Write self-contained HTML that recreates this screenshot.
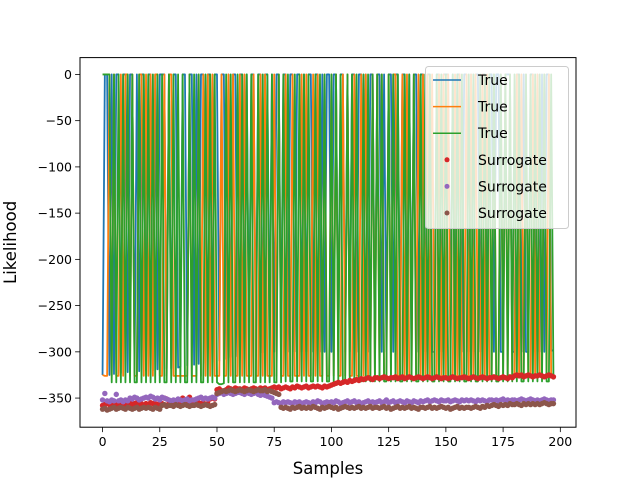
<!DOCTYPE html>
<html><head><meta charset="utf-8"><style>
body{margin:0;background:#fff}
svg{display:block;font-family:"DejaVu Sans","Liberation Sans",sans-serif}
</style></head><body>
<svg id="chart" width="640" height="480">
<rect x="0" y="0" width="640" height="480" fill="#fff"/>
<defs><clipPath id="clip"><rect x="80" y="57.6" width="496" height="369.6"/></clipPath></defs>
<g id="plot" clip-path="url(#clip)"></g>
<g id="axes"></g>
<g id="legend"></g>
</svg>
<script>
const xTicks=[0,25,50,75,100,125,150,175,200];
const yTicks=[0,-50,-100,-150,-200,-250,-300,-350];
const trueBlue=[
-325,0,0,-325,0,-324,0,0,-323,0,
0,-322,0,0,-322,0,-321,0,0,-320,
0,0,-320,0,-319,0,0,0,-318,0,
-318,0,0,-317,-316,0,0,-315,0,0,
-314,0,-313,0,0,-312,0,0,-311,0,
0,-310,0,0,-308,0,-306,0,0,-305,
0,0,-304,0,-303,0,0,-302,0,0,
-301,0,0,-300,0,-300,0,0,-300,0,
0,-300,0,0,-300,0,0,-300,0,-300,
0,0,-300,0,0,-300,0,-300,0,0,
-300,0,0,-300,0,0,-300,0,-300,0,
0,-300,0,0,-300,0,-300,0,0,-300,
0,0,-300,0,-300,0,0,-300,0,0,
-300,0,0,-300,0,-300,0,0,-300,0,
0,-300,0,0,-300,-300,0,0,-300,0,
0,0,-300,0,-300,0,0,-300,0,0,
-300,0,-300,0,0,-300,0,0,-300,0,
0,-300,0,0,-300,-300,0,0,0,-300,
-300,0,0,-300,0,-300,-300,0,0,-300,
0,-300,0,-300,0,0,-299,-298];
const trueOrange=[
-325,-326,-326,0,-326,0,-326,-326,0,-326,
0,0,-326,0,-326,-326,0,0,-326,0,
-326,0,-326,0,0,-326,-326,0,-326,0,
0,-326,-326,-326,-326,-326,-326,-326,0,-326,
-326,-326,0,-326,0,-326,0,-326,0,-326,
-326,-326,0,-326,-326,0,-326,0,-326,-326,
0,-326,0,-326,-326,-326,0,-326,-326,0,
-326,0,-326,-326,-326,0,-326,0,-326,-326,
0,-326,-326,0,-326,-326,-326,0,-326,0,
-326,-326,0,-326,0,-326,-326,0,-326,-326,
0,-326,0,-326,-326,0,-326,0,-326,-326,
0,-326,-326,0,-326,0,-326,-326,0,-326,
0,-326,0,-326,-326,0,-326,0,0,-326,
-326,0,-326,0,-326,-326,0,-326,0,-326,
0,-326,0,-326,0,-326,-326,0,-326,0,
-326,0,-326,-326,0,-326,0,-326,-326,0,
-326,0,-326,0,-326,-326,0,-326,0,-326,
-326,0,-326,-326,0,-326,0,-326,0,-326,
-326,0,-326,0,-326,0,-326,-326,0,-326,
0,-326,-326,0,-326,0,-326,-325];
const trueGreen=[
0,0,0,0,-333,0,-333,0,-333,0,
-333,0,-333,0,-333,-333,0,-333,0,-333,
0,-333,0,-333,0,-333,0,-333,-333,0,
-333,0,-333,0,-333,0,-333,-333,0,-333,
0,-333,0,-333,-333,0,-333,0,-333,0,
-333,-335,-335,-334,0,-333,0,-333,-333,0,
-333,0,-333,0,-333,0,-333,-333,0,-333,
0,-333,0,-333,0,-333,-333,0,-333,0,
-332,0,-332,-332,0,-332,0,-332,0,-332,
0,-332,-332,0,-332,0,-332,0,-332,-332,
0,-332,0,-332,0,-332,-332,0,-332,0,
-332,0,-332,-332,0,-332,0,-332,0,-332,
0,-332,0,-332,-332,0,-332,0,-332,0,
-332,-332,0,-332,0,-332,0,-332,-332,0,
-332,0,-332,0,-332,-332,0,-332,0,-332,
0,-332,-332,0,-332,0,-332,0,-332,-332,
0,-332,0,-332,-332,0,-332,0,-332,0,
-332,0,-332,-332,0,-332,0,-332,0,-332,
0,-332,0,-332,-332,0,-332,0,-332,0,
-332,0,-332,0,-332,-332,0,-330];
const surRed=[
-358,-357,-356,-357,-355,-357,-356,-358,-355,-356,
-357,-356,-355,-357,-356,-355,-357,-356,-358,-356,
-357,-355,-356,-356,-357,-355,-356,-350,-351,-356,
-357,-356,-355,-356,-357,-350,-356,-357,-349,-355,
-356,-357,-355,-356,-355,-357,-356,-351,-350,-351,
-341,-340,-342,-343,-341,-339,-340,-341,-339,-340,
-340,-341,-339,-340,-341,-340,-339,-340,-341,-339,
-340,-339,-341,-340,-339,-338,-339,-338,-340,-339,
-338,-339,-340,-338,-339,-337,-338,-339,-338,-337,
-339,-338,-337,-338,-337,-338,-339,-337,-338,-337,
-336,-335,-334,-333,-334,-333,-332,-333,-331,-332,
-331,-330,-331,-329,-330,-329,-328,-329,-330,-328,
-328,-329,-328,-327,-328,-329,-328,-328,-327,-329,
-328,-327,-329,-328,-327,-328,-329,-328,-327,-328,
-329,-328,-327,-328,-329,-328,-327,-328,-329,-328,
-328,-329,-328,-327,-328,-329,-328,-328,-327,-328,
-329,-328,-327,-328,-329,-328,-327,-328,-329,-328,
-328,-327,-328,-329,-328,-327,-328,-329,-327,-328,
-326,-325,-326,-325,-327,-326,-325,-326,-327,-326,
-326,-325,-326,-327,-326,-325,-326,-327];
const surPurple=[
-352,-345,-353,-354,-352,-353,-346,-353,-352,-354,
-352,-353,-350,-351,-349,-350,-352,-351,-350,-349,
-350,-348,-349,-351,-350,-352,-349,-350,-351,-352,
-353,-352,-354,-351,-352,-353,-352,-351,-353,-352,
-352,-351,-350,-349,-351,-350,-351,-350,-349,-350,
-346,-345,-344,-346,-345,-344,-345,-346,-345,-344,
-344,-345,-346,-344,-345,-346,-345,-344,-346,-347,
-346,-347,-348,-349,-350,-355,-354,-355,-356,-354,
-355,-354,-355,-356,-354,-355,-354,-356,-355,-354,
-355,-356,-354,-355,-353,-354,-356,-355,-354,-355,
-354,-355,-353,-354,-356,-355,-354,-353,-355,-354,
-353,-355,-354,-356,-355,-354,-353,-355,-354,-355,
-354,-353,-355,-354,-352,-355,-354,-353,-355,-354,
-353,-354,-355,-353,-354,-355,-353,-354,-355,-353,
-354,-353,-352,-354,-353,-352,-353,-354,-352,-353,
-353,-352,-354,-353,-352,-353,-354,-352,-353,-352,
-353,-352,-353,-354,-352,-353,-352,-353,-354,-352,
-352,-353,-352,-353,-352,-351,-353,-352,-353,-352,
-352,-353,-352,-351,-352,-353,-352,-351,-352,-353,
-352,-353,-352,-351,-352,-353,-352,-352];
const surBrown=[
-362,-361,-363,-362,-361,-360,-362,-361,-360,-361,
-362,-360,-361,-362,-361,-360,-362,-361,-360,-361,
-360,-361,-362,-360,-361,-362,-358,-357,-359,-358,
-358,-359,-357,-358,-359,-358,-357,-358,-359,-358,
-358,-357,-358,-359,-358,-357,-358,-359,-358,-357,
-345,-344,-343,-342,-343,-342,-341,-342,-343,-342,
-341,-342,-343,-342,-341,-342,-343,-342,-341,-342,
-342,-341,-343,-342,-343,-344,-345,-346,-360,-361,
-360,-361,-362,-360,-361,-360,-359,-361,-360,-361,
-360,-361,-359,-360,-361,-362,-360,-361,-360,-359,
-360,-361,-360,-362,-361,-360,-359,-360,-361,-360,
-361,-360,-359,-361,-360,-361,-360,-359,-361,-360,
-360,-361,-360,-359,-361,-360,-362,-361,-360,-359,
-361,-360,-361,-360,-359,-361,-360,-361,-362,-360,
-360,-361,-360,-359,-361,-360,-361,-360,-359,-360,
-361,-360,-362,-361,-360,-359,-361,-360,-361,-360,
-360,-361,-360,-359,-360,-361,-359,-360,-358,-359,
-358,-357,-358,-359,-357,-358,-357,-358,-356,-357,
-357,-356,-357,-358,-356,-357,-356,-357,-356,-357,
-356,-357,-356,-355,-356,-357,-356,-356];

const NS='http://www.w3.org/2000/svg';
const L=80,R=576,T=57.6,B=427.2;
const xMin=-9.85,xMax=206.85,yMin=-381.5,yMax=18.2;
function xs(v){return L+(v-xMin)/(xMax-xMin)*(R-L);}
function ys(v){return B-(v-yMin)/(yMax-yMin)*(B-T);}
function mk(tag,attrs,parent){const e=document.createElementNS(NS,tag);for(const k in attrs)e.setAttribute(k,attrs[k]);parent.appendChild(e);return e;}
const plot=document.getElementById('plot'),axes=document.getElementById('axes'),leg=document.getElementById('legend');

const lines=[[trueBlue,'#1f77b4','true-line-1'],[trueOrange,'#ff7f0e','true-line-2'],[trueGreen,'#2ca02c','true-line-3']];
lines.forEach(([arr,c,n])=>{
  const d=arr.map((v,i)=>(i?'L':'M')+xs(i).toFixed(2)+','+ys(v).toFixed(2)).join('');
  const p=mk('path',{d:d,fill:'none',stroke:c,'stroke-width':1.8,'stroke-linejoin':'round'},plot);
  
  
});
const scat=[[surRed,'#d62728','surrogate-points-1'],[surPurple,'#9467bd','surrogate-points-2'],[surBrown,'#8c564b','surrogate-points-3']];
scat.forEach(([arr,c,n])=>{
  const g=mk('g',{fill:c},plot);
  
  
  arr.forEach((v,i)=>{
    const pt=mk('circle',{cx:xs(i).toFixed(2),cy:ys(v).toFixed(2),r:2.7},g);
    
    
  });
});

const frame=mk('rect',{x:L,y:T,width:R-L,height:B-T,fill:'none',stroke:'#000','stroke-width':1},axes);


xTicks.forEach(t=>{
  const x=xs(t);
  const tk=mk('line',{x1:x,x2:x,y1:B,y2:B+4.9,stroke:'#000','stroke-width':0.8},axes);
  
  
  const tx=mk('text',{x:x,y:B+19,'text-anchor':'middle','font-size':'12.5px',fill:'#000'},axes);
  tx.textContent=String(t);
  
  
});
yTicks.forEach(t=>{
  const y=ys(t);
  const tk=mk('line',{x1:L-4.9,x2:L,y1:y,y2:y,stroke:'#000','stroke-width':0.8},axes);
  
  
  const tx=mk('text',{x:L-8,y:y+4.5,'text-anchor':'end','font-size':'12.5px',fill:'#000'},axes);
  tx.textContent=(t<0?'\u2212':'')+Math.abs(t);
  
  
});
const xl=mk('text',{x:(L+R)/2,y:474,'text-anchor':'middle','font-size':'16.5px',fill:'#000'},axes);
xl.textContent='Samples';


const yl=mk('text',{x:0,y:0,'text-anchor':'middle','font-size':'16.5px',fill:'#000',transform:'translate(16,'+((T+B)/2)+') rotate(-90)'},axes);
yl.textContent='Likelihood';



const lb=mk('rect',{x:425.5,y:66.5,width:143,height:162,rx:3,fill:'#fff','fill-opacity':0.8,stroke:'#ccc','stroke-width':1},leg);


const legItems=[['True','#1f77b4','line'],['True','#ff7f0e','line'],['True','#2ca02c','line'],['Surrogate','#d62728','dot'],['Surrogate','#9467bd','dot'],['Surrogate','#8c564b','dot']];
legItems.forEach(([lab,c,kind],i)=>{
  const y=80+i*26.6;
  const g=mk('g',{},leg);
  
  
  if(kind==='line') mk('line',{x1:433,x2:461,y1:y,y2:y,stroke:c,'stroke-width':1.5},g);
  else mk('circle',{cx:447,cy:y,r:2.5,fill:c},g);
  const t=mk('text',{x:478,y:y+5,'font-size':'14px',fill:'#000'},g);
  t.textContent=lab;
});
</script>
</body></html>
